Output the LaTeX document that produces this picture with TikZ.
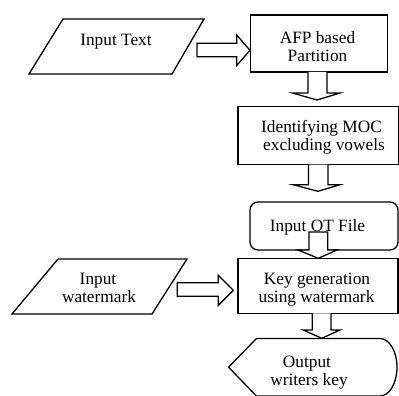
\documentclass[tikz,border=0pt]{standalone}
\usepackage{fontspec}
\setmainfont{Liberation Serif}
\begin{document}
\begin{tikzpicture}[x=1pt,y=-1pt, line width=1.3pt, line join=miter,
  lbl/.style={anchor=base, font=\fontsize{17.3}{19}\selectfont, inner sep=0pt},
  shp/.style={draw=black, fill=white},
  blockarrow/.style={draw=black, fill=white}]
\useasboundingbox (0,0) rectangle (399,396);
\clip (0,0) rectangle (399,396);
% shapes
\draw[shp] (63,19) -- (204,19) -- (172,74) -- (29,74) -- cycle;
\draw[shp] (250.5,15) rectangle (387.7,72);
\draw[shp] (238,106.5) rectangle (398.8,164.5);
\draw[shp, rounded corners=8pt] (250,202) rectangle (398,250);
\draw[shp] (238,258.3) rectangle (398,313.3);
\draw[shp] (58,259) -- (187,259) -- (152,314) -- (12,314) -- cycle;
\draw[shp] (256.5,338.5) -- (380,338.5)
   arc[start angle=-90, end angle=90, x radius=17, y radius=28.75]
   -- (256.5,396) -- (228.5,367.2) -- cycle;
% block arrows
\draw[blockarrow] (197,43.3) -- (236.7,43.3) -- (236.7,35) -- (250,50.3) -- (236.7,65.5) -- (236.7,56.7) -- (197,56.7) -- cycle;
\draw[blockarrow] (308,72) -- (308,93) -- (292.5,93) -- (317,100) -- (340,93) -- (327,93) -- (327,72);
\draw[blockarrow] (308.5,164.5) -- (308.5,184.7) -- (293,184.7) -- (318,191.3) -- (340,184.7) -- (328,184.7) -- (328,164.5);
\draw[blockarrow] (309,232) -- (309,250) -- (298,250) -- (318.3,258.3) -- (337,250) -- (327.7,250) -- (327.7,232) -- cycle;
\draw[blockarrow] (177.3,282.7) -- (218.3,282.7) -- (218.3,275.3) -- (233.3,290.3) -- (218.3,305.3) -- (218.3,296.3) -- (177.3,296.3) -- cycle;
\draw[blockarrow] (312.3,313.3) -- (312.3,330) -- (303.3,330) -- (321.7,338.3) -- (340,330) -- (331,330) -- (331,313.3);
% texts
\node[lbl] (t1) at (116,45.7) {Input Text};
\node[lbl] (t2a) at (317.5,44) {AFP based};
\node[lbl] (t2b) at (317.5,62) {Partition};
\node[lbl] (t3a) at (321.5,132.3) {Identifying MOC};
\node[lbl] (t3b) at (324,150.5) {excluding vowels};
\node[lbl] (t4) at (317.5,231) {Input OT File};
\node[lbl] (t5a) at (317,284) {Key generation};
\node[lbl] (t5b) at (316.5,302.7) {using watermark};
\node[lbl] (t6a) at (98,284) {Input};
\node[lbl] (t6b) at (99,302.7) {watermark};
\node[lbl] (t7a) at (307,367) {Output};
\node[lbl] (t7b) at (309,385.5) {writers key};
\end{tikzpicture}
\end{document}
